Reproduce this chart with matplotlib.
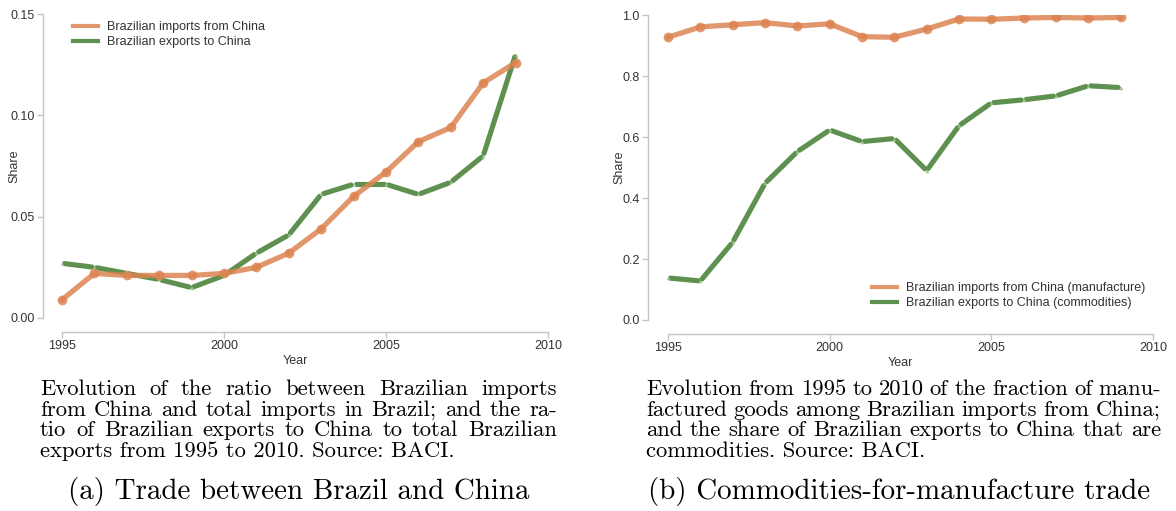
import matplotlib
matplotlib.use("Agg")
import matplotlib.pyplot as plt
from matplotlib.lines import Line2D
import numpy as np

# ---- data -------------------------------------------------------------
years = list(range(1995, 2010))

# panel (a): share of China in Brazil's total imports / exports
imports_from_china = [0.009, 0.022, 0.021, 0.021, 0.021, 0.022, 0.025, 0.032,
                      0.044, 0.060, 0.072, 0.087, 0.094, 0.116, 0.126]
exports_to_china = [0.027, 0.025, 0.022, 0.019, 0.015, 0.021, 0.032, 0.041,
                    0.061, 0.066, 0.066, 0.061, 0.067, 0.080, 0.130]

# panel (b): composition of the bilateral flows
manufacture_share = [0.927, 0.961, 0.968, 0.975, 0.964, 0.971, 0.929, 0.927,
                     0.954, 0.987, 0.986, 0.990, 0.992, 0.990, 0.992]
commodity_share = [0.138, 0.128, 0.255, 0.448, 0.552, 0.623, 0.585, 0.595,
                   0.490, 0.637, 0.712, 0.722, 0.735, 0.768, 0.762]

labels_a = ["Brazilian imports from China", "Brazilian exports to China"]
labels_b = ["Brazilian imports from China (manufacture)",
            "Brazilian exports to China (commodities)"]

yticks_a = [0.00, 0.05, 0.10, 0.15]
yticks_b = [0.0, 0.2, 0.4, 0.6, 0.8, 1.0]
xticks = [1995, 2000, 2005, 2010]

caption_a = ["Evolution of the ratio between Brazilian imports",
             "from China and total imports in Brazil; and the ra-",
             "tio of Brazilian exports to China to total Brazilian",
             "exports from 1995 to 2010. Source: BACI."]
caption_b = ["Evolution from 1995 to 2010 of the fraction of manu-",
             "factured goods among Brazilian imports from China;",
             "and the share of Brazilian exports to China that are",
             "commodities. Source: BACI."]
subcap_a = "(a) Trade between Brazil and China"
subcap_b = "(b) Commodities-for-manufacture trade"

# ---- style --------------------------------------------------------------
ORANGE = "#dd8452"
GREEN = "#5e9150"
GREEN_LIGHT = "#9cc08f"
SPINE = "#c4c4c4"
TXT = "#333333"
SANS = ["Liberation Sans", "DejaVu Sans"]
SERIF = ["cmr10", "DejaVu Serif"]

plt.rcParams["font.family"] = SANS
plt.rcParams["axes.unicode_minus"] = False

W, H = 1176, 511
fig = plt.figure(figsize=(W / 100, H / 100), dpi=100)
renderer = fig.canvas.get_renderer()


def px_axes(x0, y0, x1, y1):
    return fig.add_axes([x0 / W, 1 - y1 / H, (x1 - x0) / W, (y1 - y0) / H])


def style_axes(ax, ymax, yticks, fmt, x_first_px):
    width_px = ax.get_position().width * W
    # left edge sits a little before the first year
    per_year = (width_px - x_first_px) / 15.0
    ax.set_xlim(1995 - x_first_px / per_year, 2010)
    ax.set_ylim(0, ymax)
    for s in ["top", "right"]:
        ax.spines[s].set_visible(False)
    for s in ["left", "bottom"]:
        ax.spines[s].set_color(SPINE)
        ax.spines[s].set_linewidth(1.0)
    ax.spines["bottom"].set_position(("outward", 10))
    ax.spines["bottom"].set_bounds(1995, 2010)
    ax.spines["left"].set_bounds(0, ymax)
    ax.set_xticks(xticks)
    ax.set_xticklabels([str(t) for t in xticks])
    ax.set_yticks(yticks)
    ax.set_yticklabels([fmt.format(t) for t in yticks])
    ax.tick_params(axis="both", colors=SPINE, labelcolor=TXT, labelsize=9,
                   length=4, width=1, pad=2)
    ax.set_xlabel("Year", fontsize=9, color=TXT, labelpad=2)
    ax.set_ylabel("Share", fontsize=9, color=TXT)
    ax.yaxis.set_label_coords(-23 / width_px, 0.5)
    ax.patch.set_visible(False)


def gapped_line(ax, x, y, gap_px=2.5):
    """Green series drawn segment by segment with a small break at each year."""
    trans = ax.transData
    inv = trans.inverted()
    pts = trans.transform(np.column_stack([x, y]))
    for p, q in zip(pts[:-1], pts[1:]):
        d = q - p
        L = np.hypot(*d)
        u = d / L
        a = inv.transform(p + u * gap_px)
        b = inv.transform(q - u * gap_px)
        ax.plot([a[0], b[0]], [a[1], b[1]], color=GREEN, lw=3.7,
                solid_capstyle="round", zorder=2)
    ax.plot(x, y, ls="none", marker="^", ms=2.5, color=GREEN_LIGHT,
            markeredgewidth=0, zorder=2.5)


def orange_line(ax, x, y):
    ax.plot(x, y, color=ORANGE, lw=3.8, alpha=0.85, marker="o", ms=7,
            markeredgewidth=0, solid_capstyle="round", zorder=3)


def add_legend(ax, labels, x_px, y_px):
    handles = [Line2D([], [], color=ORANGE, lw=3, alpha=0.85),
               Line2D([], [], color=GREEN, lw=3)]
    leg = ax.legend(handles, labels, loc="upper left",
                    bbox_to_anchor=(x_px / W, 1 - y_px / H),
                    bbox_transform=fig.transFigure, frameon=False,
                    fontsize=9, handlelength=2.0, handletextpad=0.75,
                    borderpad=0, borderaxespad=0, labelspacing=0.25)
    for t in leg.get_texts():
        t.set_color(TXT)


# ---- panel (a) ----------------------------------------------------------
ax_a = px_axes(43, 14, 548, 318)
style_axes(ax_a, 0.15, yticks_a, "{:.2f}", 19)
gapped_line(ax_a, years, exports_to_china)
orange_line(ax_a, years, imports_from_china)
add_legend(ax_a, labels_a, 73, 21)

# ---- panel (b) ----------------------------------------------------------
ax_b = px_axes(648, 15, 1153, 320)
style_axes(ax_b, 1.0, yticks_b, "{:.1f}", 20)
gapped_line(ax_b, years, commodity_share)
orange_line(ax_b, years, manufacture_share)
add_legend(ax_b, labels_b, 872, 282)


# ---- captions -------------------------------------------------------------
def text_width(s, size):
    t = fig.text(0, 0, s, fontsize=size, family=SERIF)
    w = t.get_window_extent(renderer).width
    t.remove()
    return w


def justified(lines, x0, x1, y0, step, size):
    for i, line in enumerate(lines):
        y = 1 - (y0 + i * step) / H
        if i == len(lines) - 1:
            fig.text(x0 / W, y, line, fontsize=size, family=SERIF,
                     va="baseline", ha="left", color="black")
            continue
        words = line.split(" ")
        widths = [text_width(w, size) for w in words]
        gap = (x1 - x0 - sum(widths)) / (len(words) - 1)
        x = x0
        for w, wd in zip(words, widths):
            fig.text(x / W, y, w, fontsize=size, family=SERIF,
                     va="baseline", ha="left", color="black")
            x += wd + gap


# font size chosen so that the short closing line has its natural width
cap_size = 10 * 416 / text_width(caption_a[-1], 10)
justified(caption_a, 40, 557, 395, 20.5, cap_size)
justified(caption_b, 646, 1161, 395, 20.5, cap_size)

sub_size = 10 * 462 / text_width(subcap_a, 10)
fig.text(299 / W, 1 - 499 / H, subcap_a, fontsize=sub_size, family=SERIF,
         ha="center", va="baseline", color="black")
fig.text(899 / W, 1 - 499 / H, subcap_b, fontsize=sub_size, family=SERIF,
         ha="center", va="baseline", color="black")

fig.savefig("out.png", dpi=100, facecolor="white")
